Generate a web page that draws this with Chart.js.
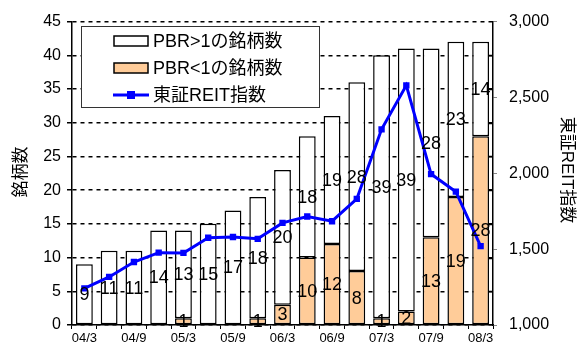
<!DOCTYPE html>
<html>
<head>
<meta charset="utf-8">
<script src="https://cdn.jsdelivr.net/npm/chart.js@4"></script>
<style>
  html, body { margin: 0; padding: 0; background: #fff; }
  #wrap { width: 582px; height: 351px; }
</style>
</head>
<body>
<div id="wrap"><canvas id="reitChart" width="582" height="351"></canvas></div>
<script>
// 四半期ごと（04/3 〜 08/3）
const periods = ['04/3', '04/6', '04/9', '04/12', '05/3', '05/6', '05/9', '05/12', '06/3', '06/6', '06/9', '06/12', '07/3', '07/6', '07/9', '07/12', '08/3'];
const pbrOver1 = [9, 11, 11, 14, 13, 15, 17, 18, 20, 18, 19, 28, 39, 39, 28, 23, 14];
const pbrUnder1 = [0, 0, 0, 0, 1, 0, 0, 1, 3, 10, 12, 8, 1, 2, 13, 19, 28];
const reitIndex = [1241, 1317, 1415, 1477, 1475, 1575, 1580, 1568, 1673, 1715, 1684, 1831, 2290, 2580, 1995, 1879, 1520];
const shownLabels = ['04/3', '04/9', '05/3', '05/9', '06/3', '06/9', '07/3', '07/9', '08/3'];

const FONT = "'Liberation Sans', Arial, 'Noto Sans CJK JP', sans-serif";
const ORANGE = '#FFCC99';
const BLUE = '#0000FF';

// 棒の中の数字
const barLabels = {
    id: 'barLabels',
    afterDatasetsDraw(chart) {
        const ctx = chart.ctx;
        ctx.save();
        ctx.font = '18px ' + FONT;
        ctx.fillStyle = '#000';
        ctx.textAlign = 'center';
        ctx.textBaseline = 'middle';
        [0, 1].forEach(di => {
            const meta = chart.getDatasetMeta(di);
            const values = chart.data.datasets[di].data;
            meta.data.forEach((bar, i) => {
                if (!values[i]) return;
                const mid = (bar.y + bar.base) / 2;
                ctx.fillText(String(values[i]), bar.x, mid + 1);
            });
        });
        ctx.restore();
    }
};

// 凡例・軸タイトル・右軸の内向き目盛
const legendBox = {
    id: 'legendBox',
    afterDraw(chart) {
        const ctx = chart.ctx;
        const y = chart.scales.y;
        const area = chart.chartArea;
        ctx.save();

        ctx.strokeStyle = '#000';
        ctx.lineWidth = 1.5;
        for (let v = 5; v <= 40; v += 5) {
            const py = Math.round(y.getPixelForValue(v)) + 0.5;
            ctx.beginPath();
            ctx.moveTo(area.right - 5, py);
            ctx.lineTo(area.right, py);
            ctx.stroke();
        }

        ctx.fillStyle = '#fff';
        ctx.strokeStyle = '#333';
        ctx.lineWidth = 1;
        ctx.fillRect(81, 26, 238, 81);
        ctx.strokeRect(81.5, 26.5, 238, 81);

        ctx.font = '18px ' + FONT;
        ctx.textBaseline = 'middle';
        ctx.textAlign = 'left';
        const rows = [
            { y: 41, text: 'PBR>1の銘柄数', kind: 'box', color: '#fff' },
            { y: 68, text: 'PBR<1の銘柄数', kind: 'box', color: ORANGE },
            { y: 95, text: '東証REIT指数', kind: 'line' }
        ];
        rows.forEach(r => {
            if (r.kind === 'box') {
                ctx.fillStyle = r.color;
                ctx.fillRect(114, r.y - 5, 34, 10);
                ctx.strokeStyle = '#000';
                ctx.lineWidth = 1.5;
                ctx.strokeRect(114, r.y - 5, 34, 10);
            } else {
                ctx.strokeStyle = BLUE;
                ctx.lineWidth = 3;
                ctx.beginPath();
                ctx.moveTo(113, r.y);
                ctx.lineTo(149, r.y);
                ctx.stroke();
                ctx.fillStyle = BLUE;
                ctx.fillRect(127, r.y - 4, 8, 8);
            }
            ctx.fillStyle = '#000';
            ctx.fillText(r.text, 153, r.y + 1);
        });

        ctx.font = '17px ' + FONT;
        ctx.textAlign = 'center';
        ctx.save();
        ctx.translate(21, 172);
        ctx.rotate(-Math.PI / 2);
        ctx.fillText('銘柄数', 0, 0);
        ctx.restore();
        ctx.save();
        ctx.translate(567, 170);
        ctx.rotate(Math.PI / 2);
        ctx.fillText('東証REIT指数', 0, 0);
        ctx.restore();
        ctx.restore();
    }
};

const ctx = document.getElementById('reitChart').getContext('2d');
new Chart(ctx, {
    type: 'bar',
    data: {
        labels: periods,
        datasets: [{
            label: 'PBR<1の銘柄数',
            data: pbrUnder1.map(v => v || null),
            backgroundColor: ORANGE,
            borderColor: '#000',
            borderWidth: 1.5,
            borderSkipped: false,
            stack: 's',
            yAxisID: 'y',
            order: 2
        }, {
            label: 'PBR>1の銘柄数',
            data: pbrOver1,
            backgroundColor: '#fff',
            borderColor: '#000',
            borderWidth: 1.5,
            borderSkipped: false,
            stack: 's',
            yAxisID: 'y',
            order: 2
        }, {
            type: 'line',
            label: '東証REIT指数',
            data: reitIndex,
            borderColor: BLUE,
            backgroundColor: BLUE,
            borderWidth: 3,
            pointStyle: 'rect',
            pointRadius: 4.5,
            pointBorderWidth: 0,
            tension: 0,
            yAxisID: 'y1',
            order: 1
        }]
    },
    options: {
        responsive: false,
        animation: false,
        layout: { padding: { top: 20, left: 0, right: 0, bottom: 0 } },
        datasets: { bar: { barPercentage: 0.68, categoryPercentage: 1 } },
        plugins: {
            legend: { display: false },
            tooltip: { enabled: false }
        },
        scales: {
            x: {
                stacked: true,
                grid: { offset: true, drawOnChartArea: false, color: '#000', tickLength: 4 },
                border: { color: '#000', width: 1.5 },
                ticks: {
                    color: '#000',
                    font: { family: FONT, size: 13 },
                    maxRotation: 0,
                    autoSkip: false,
                    padding: 2,
                    callback: (v, i) => shownLabels.includes(periods[i]) ? periods[i] : ''
                },
                afterFit: s => { s.height = 26; }
            },
            y: {
                stacked: true,
                min: 0,
                max: 45,
                ticks: { stepSize: 5, color: '#000', font: { family: FONT, size: 16 }, padding: 6 },
                grid: { color: '#000', lineWidth: 1.5, tickLength: 5 },
                border: { color: '#000', width: 1.5, dash: [4, 4] },
                afterFit: s => { s.width = 72; }
            },
            y1: {
                position: 'right',
                min: 1000,
                max: 3000,
                ticks: {
                    stepSize: 500,
                    color: '#000',
                    font: { family: FONT, size: 16 },
                    padding: 12,
                    callback: v => v.toLocaleString('en-US')
                },
                grid: { drawOnChartArea: false, color: '#888', tickLength: 4 },
                border: { color: '#000', width: 1.5 },
                afterFit: s => { s.width = 89; }
            }
        }
    },
    plugins: [barLabels, legendBox]
});
</script>
</body>
</html>
